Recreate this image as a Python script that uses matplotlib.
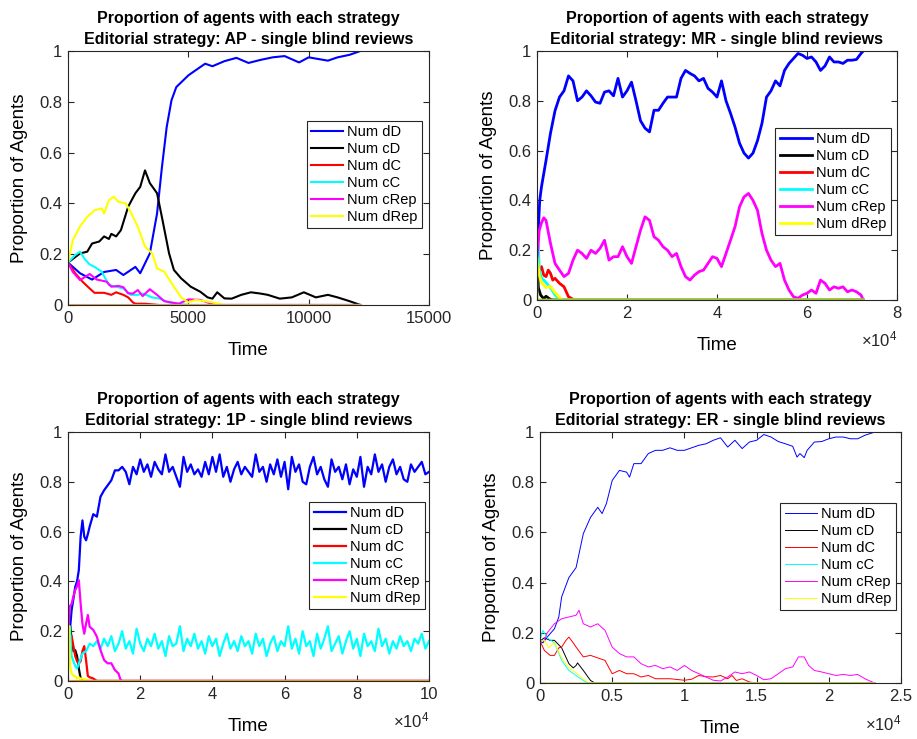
import numpy as np
import matplotlib
matplotlib.use("Agg")
import matplotlib.pyplot as plt

plt.rcParams['font.family'] = ['Liberation Sans', 'DejaVu Sans']
plt.rcParams['mathtext.fontset'] = 'custom'
plt.rcParams['mathtext.rm'] = 'Liberation Sans'

labels = ["Num dD", "Num cD", "Num dC", "Num cC", "Num cRep", "Num dRep"]
colors = ["#0000ff", "#000000", "#ff0000", "#00ffff", "#ff00ff", "#ffff00"]
yticks = [0, 0.2, 0.4, 0.6, 0.8, 1]
ytick_labels = ["0", "0.2", "0.4", "0.6", "0.8", "1"]

# ---- AP ----
ap_end = 12150
ap_dD_t = [0, 500, 1000, 1500, 2000, 2300, 2800, 3000, 3400, 3700, 3900, 4100, 4300, 4500, 5000, 5300,
           5700, 6000, 6500, 7000, 7500, 8000, 8500, 9000, 9600, 10000, 10800, 11200, 11700, 12150]
ap_dD = [0.167, 0.125, 0.10, 0.13, 0.138, 0.118, 0.15, 0.125, 0.203, 0.36, 0.54, 0.70, 0.806, 0.858, 0.904, 0.924,
         0.95, 0.94, 0.96, 0.973, 0.953, 0.965, 0.975, 0.98, 0.955, 0.975, 0.962, 0.975, 0.985, 1.0]
ap_cD_t = [0, 500, 800, 1000, 1300, 1500, 1700, 1800, 2000, 2200, 2500, 2800, 3000, 3200, 3400, 3700, 3900,
           4200, 4400, 4700, 5100, 5500, 5800, 6000, 6200, 6500, 6800, 7200, 7600, 8000, 8300, 8800, 9300,
           9800, 10300, 10800, 11200, 11700, 12150]
ap_cD = [0.167, 0.203, 0.21, 0.242, 0.25, 0.27, 0.26, 0.28, 0.27, 0.295, 0.387, 0.44, 0.465, 0.53, 0.48, 0.44, 0.347,
         0.203, 0.138, 0.105, 0.072, 0.052, 0.03, 0.025, 0.05, 0.026, 0.025, 0.04, 0.05, 0.045, 0.04, 0.025, 0.03,
         0.05, 0.03, 0.04, 0.03, 0.015, 0.0]
ap_dC_t = [0, 300, 600, 900, 1100, 1500, 1800, 2000, 2300, 2500, 2700, 2800, 3200, 3800, ap_end]
ap_dC = [0.167, 0.125, 0.092, 0.065, 0.048, 0.048, 0.04, 0.05, 0.04, 0.03, 0.01, 0.005, 0.005, 0.0, 0.0]
ap_cC_t = [0, 300, 500, 700, 900, 1100, 1400, 1700, 2000, 2300, 2600, 2900, 3100, 3500, 3800, 4200, 4600, 5000, ap_end]
ap_cC = [0.167, 0.197, 0.21, 0.18, 0.16, 0.15, 0.131, 0.079, 0.072, 0.065, 0.04, 0.04, 0.045, 0.03, 0.025, 0.01,
         0.005, 0.0, 0.0]
ap_cRep_t = [0, 200, 500, 700, 900, 1200, 1600, 1800, 2100, 2300, 2500, 2700, 2900, 3100, 3400, 3700, 4000,
             4300, 4600, 5000, 5500, 5800, 6200, ap_end]
ap_cRep = [0.167, 0.13, 0.098, 0.11, 0.122, 0.10, 0.092, 0.072, 0.075, 0.07, 0.046, 0.045, 0.059, 0.035, 0.062,
           0.04, 0.015, 0.01, 0.005, 0.022, 0.02, 0.01, 0.0, 0.0]
ap_dRep_t = [0, 200, 500, 800, 1100, 1400, 1500, 1700, 1900, 2100, 2400, 2600, 2900, 3200, 3500, 3700, 4000,
             4400, 4700, 5000, 5300, 5700, 6000, 6500, ap_end]
ap_dRep = [0.167, 0.255, 0.31, 0.347, 0.373, 0.38, 0.36, 0.413, 0.426, 0.406, 0.40, 0.367, 0.308, 0.23, 0.203,
           0.144, 0.131, 0.072, 0.03, 0.01, 0.02, 0.015, 0.01, 0.0, 0.0]

# ---- MR ----
mr_end = 72500
mr_dD_t = [0, 600, 1000] + list(range(2000, 72001, 1000)) + [mr_end]
mr_dD = [0.167, 0.40, 0.455, 0.56, 0.67, 0.76, 0.815, 0.84, 0.90, 0.88, 0.80, 0.815, 0.84, 0.82, 0.795, 0.79,
         0.835, 0.84, 0.82, 0.89, 0.815, 0.84, 0.875, 0.80, 0.72, 0.69, 0.675, 0.762, 0.762, 0.79, 0.815, 0.815,
         0.815, 0.89, 0.922, 0.91, 0.90, 0.88, 0.89, 0.85, 0.835, 0.815, 0.88, 0.80, 0.75, 0.695, 0.63, 0.59,
         0.57, 0.59, 0.64, 0.71, 0.815, 0.84, 0.88, 0.86, 0.922, 0.95, 0.97, 0.99, 0.983, 0.97, 0.976, 0.956,
         0.922, 0.94, 0.976, 0.956, 0.956, 0.95, 0.963, 0.963, 0.966, 0.99, 1.0]
mr_cD_t = [0, 300, 800, 1500, 2000, 3000, 3500, mr_end]
mr_cD = [0.167, 0.05, 0.02, 0.005, 0.015, 0.002, 0.0, 0.0]
mr_dC_t = [0, 500, 1000, 1500, 2000, 2500, 3000, 3500, 4000, 5000, 6000, 7000, 8000, 8500, mr_end]
mr_dC = [0.167, 0.12, 0.134, 0.10, 0.094, 0.12, 0.107, 0.08, 0.087, 0.067, 0.053, 0.013, 0.003, 0.0, 0.0]
mr_cC_t = [0, 300, 500, 1000, 2000, 3000, 4000, 5000, 5500, mr_end]
mr_cC = [0.167, 0.22, 0.12, 0.09, 0.07, 0.05, 0.02, 0.005, 0.0, 0.0]
mr_cRep_t = [0, 500, 1000, 1500] + list(range(2000, 72001, 1000)) + [mr_end]
mr_cRep = [0.167, 0.28, 0.31, 0.33, 0.32, 0.227, 0.147, 0.12, 0.094, 0.107, 0.16, 0.20, 0.187, 0.167, 0.20, 0.187,
           0.207, 0.24, 0.16, 0.174, 0.174, 0.214, 0.174, 0.147, 0.214, 0.28, 0.334, 0.32, 0.254, 0.24, 0.214,
           0.20, 0.174, 0.187, 0.134, 0.094, 0.08, 0.10, 0.114, 0.12, 0.147, 0.174, 0.167, 0.134, 0.187, 0.24,
           0.294, 0.374, 0.414, 0.428, 0.40, 0.36, 0.267, 0.20, 0.16, 0.134, 0.147, 0.08, 0.04, 0.013, 0.007,
           0.02, 0.027, 0.04, 0.027, 0.08, 0.067, 0.04, 0.053, 0.047, 0.053, 0.033, 0.04, 0.033, 0.02, 0.0]
mr_dRep_t = [0, 500, 1000, 2000, 3000, 4000, 5000, 5500, mr_end]
mr_dRep = [0.167, 0.10, 0.07, 0.05, 0.055, 0.03, 0.01, 0.0, 0.0]

# ---- 1P ----
p1_end = 100000
p1_dD_t = [0, 500, 1000, 1500, 2000, 2500, 3000, 3500, 4000, 4500, 5000, 5500, 6000] + \
          list(range(7000, 100001, 1000))
p1_dD = [0.167, 0.20, 0.285, 0.33, 0.378, 0.40, 0.445, 0.58, 0.645, 0.58, 0.565, 0.59, 0.62,
         0.67, 0.66, 0.74, 0.766, 0.786, 0.806, 0.846, 0.846, 0.86,
         0.84, 0.79, 0.86, 0.83, 0.89, 0.84, 0.87, 0.82, 0.88, 0.85, 0.83, 0.91, 0.84, 0.86, 0.82, 0.78,
         0.90, 0.84, 0.87, 0.83, 0.85, 0.82, 0.88, 0.83, 0.90, 0.84, 0.91, 0.82, 0.86, 0.80, 0.85, 0.88,
         0.83, 0.86, 0.84, 0.82, 0.91, 0.84, 0.86, 0.80, 0.87, 0.83, 0.89, 0.82, 0.88, 0.77, 0.90, 0.84,
         0.87, 0.80, 0.79, 0.86, 0.90, 0.83, 0.86, 0.81, 0.78, 0.89, 0.84, 0.86, 0.81, 0.87, 0.79, 0.85,
         0.82, 0.90, 0.78, 0.86, 0.83, 0.91, 0.84, 0.87, 0.80, 0.86, 0.89, 0.83, 0.86, 0.81, 0.80, 0.87,
         0.84, 0.86, 0.88, 0.83, 0.84]
p1_cD_t = [0, 300, 600, 1000, 1500, 2000, 2500, 3000, 3500, 4000, p1_end]
p1_cD = [0.167, 0.20, 0.22, 0.17, 0.12, 0.124, 0.10, 0.05, 0.01, 0.0, 0.0]
p1_dC_t = [0, 300, 600, 1000, 1500, 2000, 2500, 3000, 3500, 4000, 4500, 5000, 5500, 6000, 7000, 7500, 8000, p1_end]
p1_dC = [0.167, 0.10, 0.15, 0.18, 0.14, 0.10, 0.08, 0.07, 0.08, 0.12, 0.14, 0.084, 0.02, 0.015, 0.01, 0.005,
         0.0, 0.0]
p1_cC_t = [0, 500, 1000, 1500, 2000, 2500, 3000, 3500, 4000, 5000, 6000, 7000, 8000, 9000, 10000] + \
          list(range(11000, 100001, 1000))
p1_cC = [0.167, 0.22, 0.10, 0.08, 0.06, 0.05, 0.07, 0.09, 0.11, 0.12, 0.15, 0.14, 0.16, 0.13, 0.17,
         0.14, 0.18, 0.12, 0.15, 0.20, 0.13, 0.16, 0.11, 0.21, 0.15, 0.12, 0.17, 0.14, 0.19, 0.13, 0.16,
         0.10, 0.18, 0.14, 0.15, 0.22, 0.12, 0.17, 0.14, 0.19, 0.13, 0.16, 0.11, 0.18, 0.14, 0.17, 0.10,
         0.15, 0.19, 0.13, 0.16, 0.12, 0.18, 0.14, 0.16, 0.11, 0.19, 0.14, 0.17, 0.10, 0.15, 0.18, 0.12,
         0.16, 0.14, 0.22, 0.13, 0.17, 0.11, 0.20, 0.14, 0.16, 0.10, 0.19, 0.13, 0.17, 0.22, 0.12, 0.15,
         0.18, 0.11, 0.16, 0.20, 0.13, 0.17, 0.10, 0.19, 0.14, 0.16, 0.12, 0.21, 0.14, 0.17, 0.11, 0.16,
         0.13, 0.18, 0.14, 0.16, 0.12, 0.17, 0.15, 0.19, 0.13, 0.16]
p1_cRep_t = [0, 500, 1000, 1500, 2000, 2500, 3000, 3500, 4000, 4500, 5000, 5500, 6000, 7000, 8000, 9000,
             10000, 11000, 12000, 13000, 14000, 14500, 15000, p1_end]
p1_cRep = [0.167, 0.30, 0.31, 0.34, 0.365, 0.38, 0.405, 0.31, 0.23, 0.19, 0.23, 0.265, 0.218, 0.205, 0.178,
           0.124, 0.084, 0.071, 0.071, 0.044, 0.03, 0.007, 0.0, 0.0]
p1_dRep_t = [0, 300, 600, 1000, 1500, 2000, 2500, 3000, 3500, 4000, 5000, 6000, p1_end]
p1_dRep = [0.167, 0.22, 0.06, 0.03, 0.02, 0.02, 0.01, 0.015, 0.008, 0.01, 0.005, 0.0, 0.0]

# ---- ER ----
er_end = 23200
er_dD_t = [0, 200, 500, 1000, 1300, 1500, 2000, 2500, 3000, 3500, 4000, 4300, 4600, 5000, 5500, 6000, 6200,
           6500, 7000, 7500, 8000, 8500, 9000, 9500, 10000, 10500, 11000, 11500, 12000, 12500, 13000, 13500,
           14000, 14500, 15000, 15500, 16000, 16500, 17000, 17500, 17800, 18000, 18300, 18500, 19000, 19500,
           20000, 20500, 21000, 21500, 22000, 22500, er_end]
er_dD = [0.167, 0.16, 0.183, 0.216, 0.263, 0.343, 0.42, 0.46, 0.595, 0.66, 0.70, 0.675, 0.715, 0.807, 0.847,
         0.84, 0.82, 0.874, 0.874, 0.914, 0.927, 0.927, 0.937, 0.927, 0.927, 0.937, 0.947, 0.953, 0.967, 0.977,
         0.94, 0.967, 0.934, 0.96, 0.967, 0.99, 0.98, 0.962, 0.953, 0.943, 0.90, 0.914, 0.898, 0.927, 0.96,
         0.962, 0.973, 0.98, 0.98, 0.973, 0.973, 0.987, 1.0]
er_cD_t = [0, 300, 700, 1000, 1500, 2000, 2300, 2500, 2600, 3000, 3500, 3800, er_end]
er_cD = [0.167, 0.18, 0.17, 0.17, 0.14, 0.077, 0.06, 0.07, 0.08, 0.05, 0.01, 0.0, 0.0]
er_dC_t = [0, 300, 700, 1000, 1300, 1500, 1800, 2000, 2300, 2500, 3000, 3500, 4000, 4500, 5000, 5500, 6000,
           6500, 7000, 7500, 8000, 9000, 10000, 10500, 11000, 11500, 12000, 12500, 13000, 13300, 13600,
           14000, 14500, 15000, er_end]
er_dC = [0.167, 0.13, 0.11, 0.11, 0.14, 0.143, 0.17, 0.183, 0.16, 0.143, 0.104, 0.11, 0.10, 0.09, 0.037, 0.05,
         0.037, 0.037, 0.024, 0.03, 0.017, 0.017, 0.011, 0.015, 0.03, 0.025, 0.024, 0.03, 0.017, 0.03, 0.01,
         0.017, 0.004, 0.0, 0.0]
er_cC_t = [0, 200, 500, 1000, 1500, 2000, 2500, 3000, 3300, er_end]
er_cC = [0.167, 0.21, 0.18, 0.16, 0.09, 0.05, 0.03, 0.01, 0.0, 0.0]
er_cRep_t = [0, 300, 500, 1000, 1500, 2000, 2500, 2700, 3000, 3500, 4000, 4500, 5000, 5500, 6000, 6500, 7000,
             7500, 8000, 8500, 9000, 9500, 10000, 10500, 11000, 11500, 12000, 12500, 13000, 13500, 14000,
             14500, 15000, 15500, 16000, 16500, 17000, 17500, 17900, 18300, 18600, 19000, 19500, 20000,
             20500, 21000, 21500, 22000, 22500, 23000, er_end]
er_cRep = [0.167, 0.17, 0.20, 0.236, 0.256, 0.263, 0.27, 0.29, 0.236, 0.223, 0.236, 0.21, 0.143, 0.117, 0.104,
           0.104, 0.077, 0.064, 0.07, 0.057, 0.064, 0.05, 0.07, 0.05, 0.037, 0.024, 0.011, 0.008, 0.024, 0.044,
           0.037, 0.044, 0.03, 0.013, 0.017, 0.037, 0.057, 0.064, 0.104, 0.104, 0.07, 0.05, 0.044, 0.037, 0.03,
           0.034, 0.03, 0.034, 0.017, 0.004, 0.0]
er_dRep_t = [0, 300, 600, 1000, 1500, 2000, 2500, 3000, 3400, er_end]
er_dRep = [0.167, 0.17, 0.14, 0.16, 0.10, 0.06, 0.04, 0.015, 0.0, 0.0]

panels = [
    ("AP", [(ap_dD_t, ap_dD), (ap_cD_t, ap_cD), (ap_dC_t, ap_dC), (ap_cC_t, ap_cC), (ap_cRep_t, ap_cRep),
            (ap_dRep_t, ap_dRep)], ap_end, [0, 5000, 10000, 15000], ["0", "5000", "10000", "15000"], None,
     [68, 51, 429, 305], (0.981, 0.724), 1.5, "#d9a066"),
    ("MR", [(mr_dD_t, mr_dD), (mr_cD_t, mr_cD), (mr_dC_t, mr_dC), (mr_cC_t, mr_cC), (mr_cRep_t, mr_cRep),
            (mr_dRep_t, mr_dRep)], mr_end, [0, 20000, 40000, 60000, 80000], ["0", "2", "4", "6", "8"], 4,
     [537, 51, 897, 300], (0.983, 0.691), 2.0, "#9cc83c"),
    ("1P", [(p1_dD_t, p1_dD), (p1_cD_t, p1_cD), (p1_dC_t, p1_dC), (p1_cC_t, p1_cC), (p1_cRep_t, p1_cRep),
            (p1_dRep_t, p1_dRep)], p1_end, [0, 20000, 40000, 60000, 80000, 100000],
     ["0", "2", "4", "6", "8", "10"], 4, [68, 432, 429, 681], (0.989, 0.719), 1.6, "#ee9a3a"),
    ("ER", [(er_dD_t, er_dD), (er_cD_t, er_cD), (er_dC_t, er_dC), (er_cC_t, er_cC), (er_cRep_t, er_cRep),
            (er_dRep_t, er_dRep)], er_end, [0, 5000, 10000, 15000, 20000, 25000],
     ["0", "0.5", "1", "1.5", "2", "2.5"], 4, [540, 432, 901, 683], (0.986, 0.717), 0.7, "#c8c040"),
]

W, H = 917, 739
fig = plt.figure(figsize=(W / 100, H / 100), dpi=100)
axc = "#262626"

for name, series, tend, xt, xtl, expo, box, leg_at, lw, base_col in panels:
    x0, y0, x1, y1 = box
    ax = fig.add_axes([x0 / W, 1 - y1 / H, (x1 - x0) / W, (y1 - y0) / H])
    for (t, v), lab, c in zip(series, labels, colors):
        ax.plot(t, v, color=c, lw=lw, label=lab)
    # initial drop of the unlabeled baseline series
    ax.plot([0, 1, tend], [0.167, 0, 0], color=base_col, lw=lw)
    ax.set_xlim(xt[0], xt[-1])
    ax.set_ylim(0, 1)
    ax.set_xticks(xt)
    ax.set_xticklabels(xtl)
    ax.set_yticks(yticks)
    ax.set_yticklabels(ytick_labels)
    ax.tick_params(direction='in', top=True, right=True, length=4, width=0.8, labelsize=12,
                   colors=axc, pad=4)
    for s in ax.spines.values():
        s.set_color(axc)
        s.set_linewidth(0.8)
    ax.set_xlabel("Time", fontsize=13.5, labelpad=12)
    ax.set_ylabel("Proportion of Agents", fontsize=13.5, labelpad=8)
    ax.set_title("Proportion of agents with each strategy\nEditorial strategy: " + name +
                 " - single blind reviews", fontsize=11.5, fontweight='bold', linespacing=1.5, pad=5)
    if expo:
        ax.text(1.0, -0.16, r"$\mathregular{\times10^{%d}}$" % expo, transform=ax.transAxes,
                ha='right', va='center', fontsize=12, color=axc)
    leg = ax.legend(loc='upper right', bbox_to_anchor=leg_at, fontsize=10.5, frameon=True, fancybox=False,
                    framealpha=1, edgecolor='#262626', borderpad=0.3, labelspacing=0.2, handlelength=2.2,
                    handletextpad=0.3, borderaxespad=0)
    leg.get_frame().set_linewidth(0.8)

fig.savefig("out.png", dpi=100)
